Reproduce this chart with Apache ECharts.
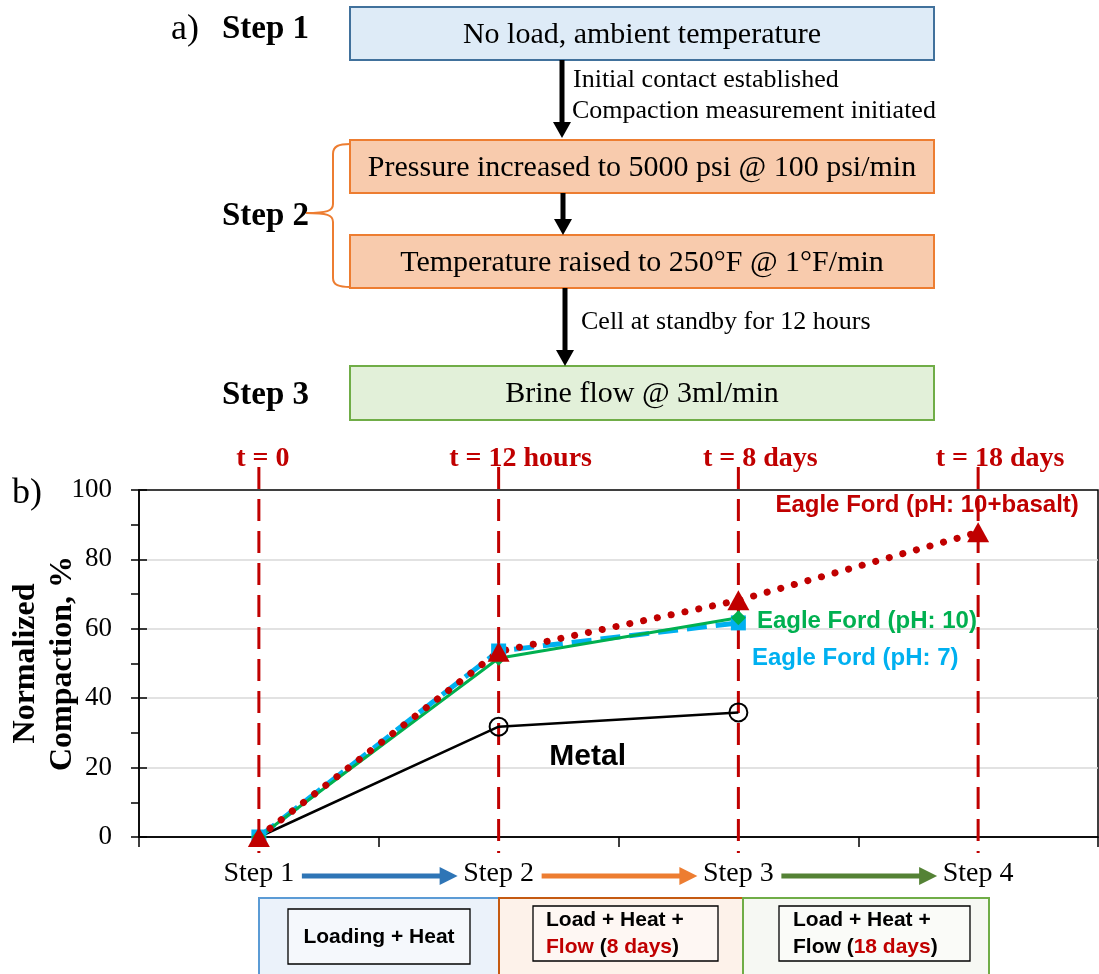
<!DOCTYPE html>
<html>
<head>
<meta charset="utf-8">
<script src="https://cdn.jsdelivr.net/npm/echarts@6/dist/echarts.min.js"></script>
<style>
  html, body { margin: 0; padding: 0; background: #fff; }
  #main { width: 1099px; height: 974px; }
</style>
</head>
<body>
<div id="main"></div>
<script>
// ---- data ----
const steps = ['Step 1', 'Step 2', 'Step 3', 'Step 4'];
const timeLabels = ['t = 0', 't = 12 hours', 't = 8 days', 't = 18 days'];
const seriesNames = ['Eagle Ford (pH: 10+basalt)', 'Eagle Ford (pH: 10)', 'Eagle Ford (pH: 7)', 'Metal'];
const basalt = [0, 53.4, 68.2, 87.8];
const ph10 = [0, 51.5, 63.2, null];
const ph7 = [0, 53.6, 61.7, null];
const metal = [0, 31.8, 35.9, null];

const serif = '"Liberation Serif", "Times New Roman", serif';
const sans = '"Liberation Sans", Arial, sans-serif';
const darkRed = '#C00000';
const flowColors = ['#2E75B6', '#ED7D31', '#548235'];

// put a label on the last non-empty point of a series
function withEndLabel(values, label) {
  let last = -1;
  values.forEach((v, i) => { if (v !== null) last = i; });
  return values.map((v, i) => i === last ? { value: v, label: Object.assign({ show: true }, label) } : v);
}
function withLabelAt(values, idx, label) {
  return values.map((v, i) => i === idx ? { value: v, label: Object.assign({ show: true }, label) } : v);
}

// ---- flowchart (panel a) and stage boxes ----
function text(x, y, str, font, fill, align, extra) {
  return Object.assign({
    type: 'text', x: x, y: y, silent: true,
    style: { text: str, font: font, fill: fill || '#000', textAlign: align || 'left', textVerticalAlign: 'middle' }
  }, extra || {});
}
function box(x, y, w, h, fill, stroke, lw) {
  return { type: 'rect', silent: true, shape: { x: x, y: y, width: w, height: h },
    style: { fill: fill, stroke: stroke, lineWidth: lw || 2 } };
}
function downArrow(x, y1, y2) {
  return [
    { type: 'line', silent: true, shape: { x1: x, y1: y1, x2: x, y2: y2 - 14 }, style: { stroke: '#000', lineWidth: 5 } },
    { type: 'polygon', silent: true, shape: { points: [[x - 9, y2 - 16], [x + 9, y2 - 16], [x, y2]] }, style: { fill: '#000' } }
  ];
}
function seg(x1, y1, x2, y2) {
  return { type: 'line', silent: true, shape: { x1: x1, y1: y1, x2: x2, y2: y2 }, style: { stroke: '#ED7D31', lineWidth: 2 } };
}
function curve(x1, y1, cx1, cy1, cx2, cy2, x2, y2) {
  return { type: 'bezierCurve', silent: true,
    shape: { x1: x1, y1: y1, cpx1: cx1, cpy1: cy1, cpx2: cx2, cpy2: cy2, x2: x2, y2: y2 },
    style: { fill: 'none', stroke: '#ED7D31', lineWidth: 2 } };
}

const stageRich = {
  b: { font: 'bold 21px ' + sans, fill: '#000' },
  r: { font: 'bold 21px ' + sans, fill: darkRed }
};

const graphics = [].concat(
  [
    text(171, 30, 'a)', '36px ' + serif),
    text(222, 29, 'Step 1', 'bold 33px ' + serif),
    text(222, 216, 'Step 2', 'bold 33px ' + serif),
    text(222, 395, 'Step 3', 'bold 33px ' + serif),

    box(350, 7, 584, 53, '#DEEBF7', '#41719C'),
    text(642, 35, 'No load, ambient temperature', '30px ' + serif, '#000', 'center'),
    box(350, 140, 584, 53, '#F8CBAD', '#ED7D31'),
    text(642, 168, 'Pressure increased to 5000 psi @ 100 psi/min', '30px ' + serif, '#000', 'center'),
    box(350, 235, 584, 53, '#F8CBAD', '#ED7D31'),
    text(642, 263, 'Temperature raised to 250°F @ 1°F/min', '30px ' + serif, '#000', 'center'),
    box(350, 366, 584, 54, '#E2F0D9', '#70AD47'),
    text(642, 394, 'Brine flow @ 3ml/min', '30px ' + serif, '#000', 'center'),

    text(573, 80, 'Initial contact established', '26px ' + serif),
    text(572, 111, 'Compaction measurement initiated', '26px ' + serif),
    text(581, 322, 'Cell at standby for 12 hours', '26px ' + serif),

    // brace grouping the two Step 2 boxes
    curve(350, 144, 339, 144, 333, 146, 333, 154),
    seg(333, 154, 333, 204),
    curve(333, 204, 333, 211, 327, 213, 306, 213),
    curve(306, 213, 327, 213, 333, 215, 333, 222),
    seg(333, 222, 333, 278),
    curve(333, 278, 333, 285, 339, 287, 350, 287),

    text(12, 494, 'b)', '36px ' + serif)
  ],
  downArrow(562, 60, 138),
  downArrow(563, 193, 235),
  downArrow(565, 288, 366),
  [
    box(259, 898, 240, 82, '#EBF2FA', '#5B9BD5'),
    box(499, 898, 244, 82, '#FDF2EA', '#C55A11'),
    box(743, 898, 246, 82, '#F6F8F3', '#70AD47'),
    box(288, 909, 182, 55, '#F5F8FC', '#000', 1.3),
    box(533, 906, 185, 55, '#FEF7F3', '#000', 1.3),
    box(779, 906, 191, 55, '#FAFBF8', '#000', 1.3),
    text(379, 937, 'Loading + Heat', 'bold 21px ' + sans, '#000', 'center'),
    { type: 'text', x: 546, y: 934, silent: true,
      style: { text: '{b|Load + Heat +}\n{r|Flow} {b|(}{r|8 days}{b|)}', font: 'bold 21px ' + sans, fill: '#000',
        textAlign: 'left', textVerticalAlign: 'middle', lineHeight: 27, rich: stageRich } },
    { type: 'text', x: 793, y: 934, silent: true,
      style: { text: '{b|Load + Heat +}\n{b|Flow (}{r|18 days}{b|)}', font: 'bold 21px ' + sans, fill: '#000',
        textAlign: 'left', textVerticalAlign: 'middle', lineHeight: 27, rich: stageRich } }
  ]
);

// ---- chart (panel b) ----
const chart = echarts.init(document.getElementById('main'), null, { renderer: 'canvas' });
const axisLine = { color: '#000', width: 1.5 };

// Metal series: the starting marker sits under the other series' markers
const metalData = withLabelAt(metal, 1, { formatter: () => seriesNames[3], position: 'bottom', offset: [89, 0],
  color: '#000', fontFamily: sans, fontWeight: 'bold', fontSize: 30 });
metalData[0] = { value: metal[0], itemStyle: { opacity: 0 } };

chart.setOption({
  animation: false,
  backgroundColor: '#fff',
  grid: { left: 139, right: 1, top: 490, bottom: 137, outerBoundsMode: 'none', containLabel: false,
    show: true, borderColor: '#000', borderWidth: 1.5, backgroundColor: 'transparent' },
  xAxis: {
    type: 'category', data: steps, boundaryGap: true,
    axisLine: { lineStyle: axisLine },
    axisTick: { show: true, length: 10, lineStyle: axisLine },
    axisLabel: { fontFamily: serif, fontSize: 28, color: '#000', margin: 23 },
    splitLine: { show: false }
  },
  yAxis: [{
    type: 'value', min: 0, max: 100, interval: 20,
    name: 'Normalized\nCompaction, %', nameLocation: 'middle', nameRotate: 90, nameGap: 58, nameMoveOverlap: false,
    nameTextStyle: { fontFamily: serif, fontWeight: 'bold', fontSize: 32, color: '#000', lineHeight: 37 },
    axisLine: { show: true, lineStyle: axisLine },
    axisTick: { show: true, length: 8, lineStyle: axisLine },
    minorTick: { show: true, splitNumber: 2, length: 8, lineStyle: axisLine },
    axisLabel: { fontFamily: serif, fontSize: 27, color: '#000', margin: 27 },
    splitLine: { showMinLine: false, showMaxLine: false, lineStyle: { color: '#D9D9D9', width: 1.5 } }
  }, {
    type: 'value', min: 0, max: 100, interval: 20, position: 'left',
    axisLine: { show: false },
    axisTick: { show: true, inside: true, length: 8, lineStyle: axisLine },
    axisLabel: { show: false },
    splitLine: { show: false }
  }],
  graphic: graphics,
  series: [
    {
      // vertical time markers at each step
      type: 'custom', name: 'time', clip: false, silent: true, z: 1,
      data: steps.map((s, i) => [i, 0]),
      encode: { x: 0, y: 1 },
      renderItem: function (params, api) {
        const cs = params.coordSys;
        const x = api.coord([api.value(0), 0])[0];
        const dx = params.dataIndex === 0 ? 4 : 22;
        return { type: 'group', children: [
          { type: 'line', shape: { x1: x, y1: cs.y - 23, x2: x, y2: cs.y + cs.height + 16 },
            style: { stroke: darkRed, lineWidth: 3, lineDash: [22, 10] } },
          { type: 'text', x: x + dx, y: cs.y - 31,
            style: { text: timeLabels[params.dataIndex], font: 'bold 28px ' + serif, fill: darkRed, align: 'center', verticalAlign: 'middle' } }
        ] };
      }
    },
    {
      // arrows between consecutive steps
      type: 'custom', name: 'flow', clip: false, silent: true, z: 1,
      data: steps.slice(1).map((s, i) => [i, 0]),
      encode: { x: 0, y: 1 },
      renderItem: function (params, api) {
        const cs = params.coordSys;
        const i = api.value(0);
        const x1 = api.coord([i, 0])[0] + 43;
        const x2 = api.coord([i + 1, 0])[0] - 41;
        const y = cs.y + cs.height + 39;
        const c = flowColors[params.dataIndex];
        return { type: 'group', children: [
          { type: 'line', shape: { x1: x1, y1: y, x2: x2 - 14, y2: y }, style: { stroke: c, lineWidth: 5 } },
          { type: 'polygon', shape: { points: [[x2 - 18, y - 9], [x2, y], [x2 - 18, y + 9]] }, style: { fill: c } }
        ] };
      }
    },
    {
      name: seriesNames[3], type: 'line', z: 3,
      data: metalData,
      symbol: 'circle', symbolSize: 18,
      lineStyle: { color: '#000', width: 2.5 },
      itemStyle: { color: 'rgba(0,0,0,0)', borderColor: '#000', borderWidth: 2 },
      emphasis: { disabled: true }
    },
    {
      name: seriesNames[2], type: 'line', z: 3,
      data: withEndLabel(ph7, { formatter: () => seriesNames[2], position: 'right', distance: 6, offset: [0, 35],
        color: '#00B0F0', fontFamily: sans, fontWeight: 'bold', fontSize: 24 }),
      symbol: 'rect', symbolSize: 15,
      lineStyle: { color: '#00B0F0', width: 5, type: [20, 9] },
      itemStyle: { color: '#00B0F0' },
      emphasis: { disabled: true }
    },
    {
      name: seriesNames[1], type: 'line', z: 3,
      data: withEndLabel(ph10, { formatter: () => seriesNames[1], position: 'right', distance: 11, offset: [0, 4],
        color: '#00B050', fontFamily: sans, fontWeight: 'bold', fontSize: 24 }),
      symbol: 'diamond', symbolSize: 15,
      lineStyle: { color: '#00B050', width: 3 },
      itemStyle: { color: '#00B050' },
      emphasis: { disabled: true }
    },
    {
      name: seriesNames[0], type: 'line', z: 3,
      data: withEndLabel(basalt, { formatter: () => seriesNames[0], position: 'top', offset: [-51, 0],
        color: darkRed, fontFamily: sans, fontWeight: 'bold', fontSize: 24 }),
      symbol: 'triangle', symbolSize: [22, 20],
      lineStyle: { color: darkRed, width: 7, type: [0.1, 14], cap: 'round' },
      itemStyle: { color: darkRed },
      emphasis: { disabled: true }
    }
  ]
});
</script>
</body>
</html>
